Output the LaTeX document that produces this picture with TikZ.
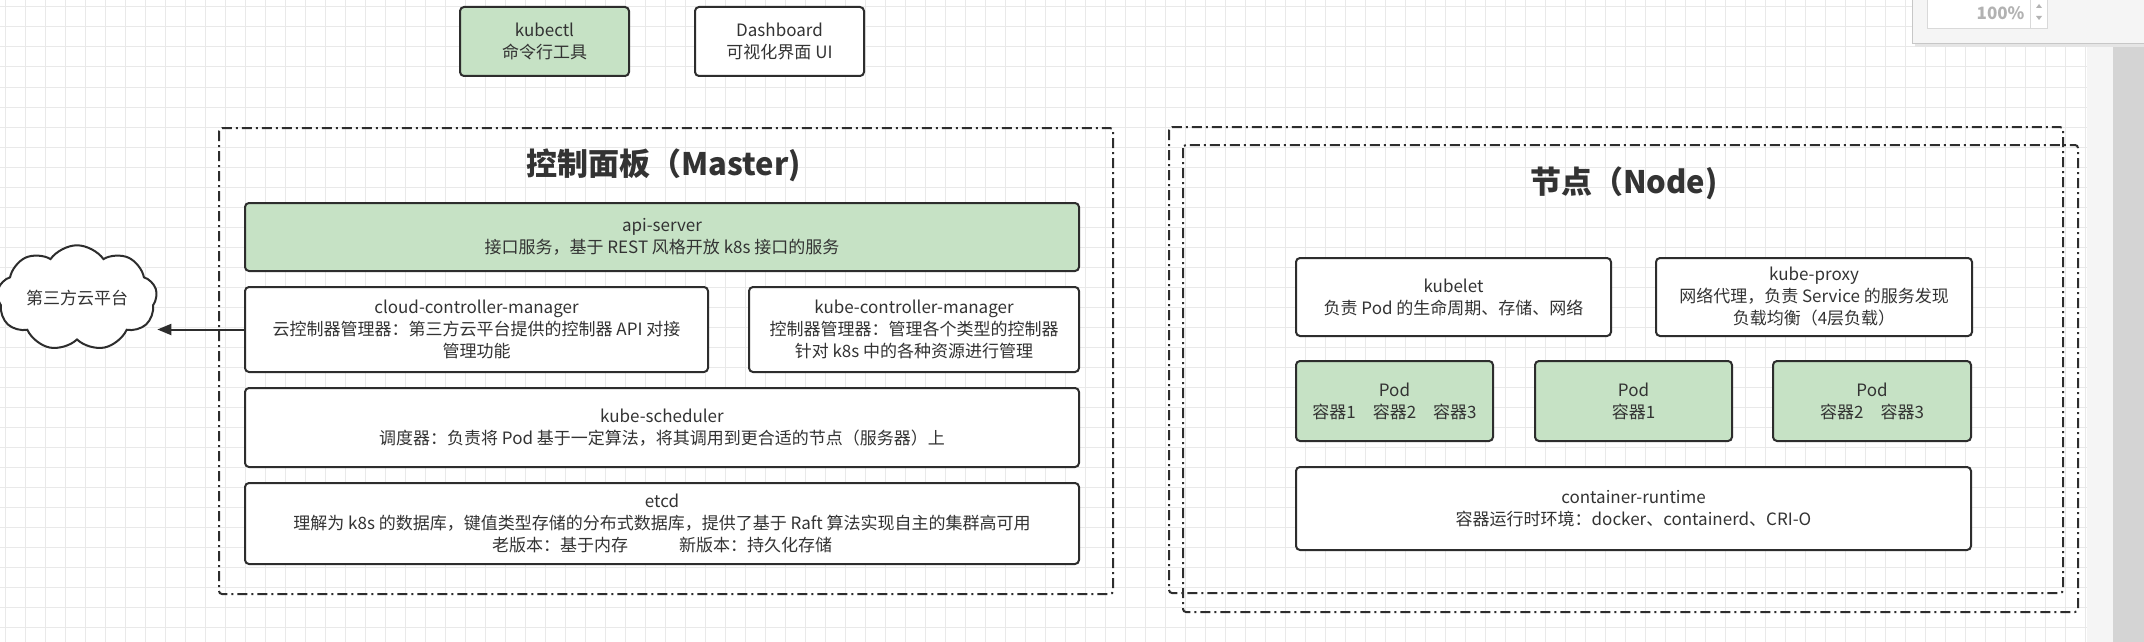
\documentclass[tikz,border=0pt]{standalone}
\usepackage{fontspec}
\setmainfont{Noto Sans CJK SC}
\usetikzlibrary{shapes.symbols,arrows.meta}
\definecolor{boxline}{RGB}{45,45,45}
\definecolor{txt}{RGB}{51,51,51}
\definecolor{podgreen}{RGB}{198,226,197}
\definecolor{gridgray}{RGB}{233,233,233}
\definecolor{panelgray}{RGB}{245,245,245}
\begin{document}
\begin{tikzpicture}[x=1pt,y=-1pt,>={Triangle[length=14pt,width=11pt]},
	every node/.style={text=txt,font=\fontsize{17}{22}\selectfont},
	box/.style={draw=boxline,line width=2pt,rounded corners=4pt,fill=white,align=center,inner sep=0pt},
	greenbox/.style={box,fill=podgreen},
	frame/.style={draw=boxline,line width=2pt,dash pattern=on 10pt off 4pt on 2pt off 4pt,rounded corners=3pt},
	title/.style={font=\bfseries\fontsize{31}{36}\selectfont},
	gridline/.style={gridgray,line width=1pt}]
	\useasboundingbox[fill=white] (0,0) rectangle (2144,642);
	\foreach \gx in {5,25,...,2085} \draw[gridline] (\gx,0) -- (\gx,642);
	\foreach \gy in {7,27,...,642} \draw[gridline] (0,\gy) -- (2087,\gy);
	\fill[panelgray] (2087,0) rectangle (2113,642);
	\fill[black!17] (2113,0) rectangle (2144,642);
	\fill[black!10] (1915,0) rectangle (2144,47);
	\draw[black!22,fill=panelgray] (1912,-2) rectangle (2146,43);
	\draw[black!15,fill=white] (1927,-2) rectangle (2047,28);
	\draw[black!15] (2030,-2) -- (2030,28);
	\fill[black!30] (2036,8) -- (2042,8) -- (2039,4) -- cycle;
	\fill[black!30] (2036,16) -- (2042,16) -- (2039,20) -- cycle;
	\node[anchor=east,text=black!30,font=\bfseries\fontsize{17}{20}\selectfont] (zoom) at (2028,13) {100\%};

	\node[greenbox,minimum width=169pt,minimum height=69pt] (kubectl) at (544.5,41.5) {kubectl\\命令行工具};
	\node[box,minimum width=169pt,minimum height=69pt] (dashboard) at (779.5,41.5) {Dashboard\\可视化界面 UI};

	\draw[frame] (219,128) rectangle (1113,594);
	\node[title] (mastertitle) at (664,165) {控制面板（Master)};
	\node[greenbox,minimum width=834pt,minimum height=68pt] (api) at (662,237) {api-server\\接口服务，基于 REST 风格开放 k8s 接口的服务};
	\node[box,minimum width=463pt,minimum height=85pt] (ccm) at (476.5,329.5) {cloud-controller-manager\\云控制器管理器：第三方云平台提供的控制器 API 对接\\管理功能};
	\node[box,minimum width=330pt,minimum height=85pt] (kcm) at (914,329.5) {kube-controller-manager\\控制器管理器：管理各个类型的控制器\\针对 k8s 中的各种资源进行管理};
	\node[box,minimum width=834pt,minimum height=79pt] (scheduler) at (662,427.5) {kube-scheduler\\调度器：负责将 Pod 基于一定算法，将其调用到更合适的节点（服务器）上};
	\node[box,minimum width=834pt,minimum height=81pt] (etcd) at (662,523.5) {etcd\\理解为 k8s 的数据库，键值类型存储的分布式数据库，提供了基于 Raft 算法实现自主的集群高可用\\老版本：基于内存\hspace{3em}新版本：持久化存储};

	\node[cloud,draw=boxline,line width=2pt,fill=white,cloud puffs=9,cloud puff arc=110,aspect=1.7,minimum width=160pt,minimum height=86pt,inner sep=0pt] (cloud) at (77,298) {第三方云平台};
	\draw[->,boxline,line width=2pt] (ccm.west) -- (ccm.west -| cloud.east);

	\draw[frame] (1169,127) rectangle (2063,593);
	\draw[frame] (1183,145) rectangle (2078,612);
	\node[title] (nodetitle) at (1624,183) {节点（Node)};
	\node[box,minimum width=315pt,minimum height=78pt] (kubelet) at (1453.5,297) {kubelet\\负责 Pod 的生命周期、存储、网络};
	\node[box,minimum width=316pt,minimum height=78pt] (proxy) at (1814,297) {kube-proxy\\网络代理，负责 Service 的服务发现\\负载均衡（4层负载）};
	\node[greenbox,minimum width=197pt,minimum height=80pt] (podone) at (1394.5,401) {Pod\\容器1\quad 容器2\quad 容器3};
	\node[greenbox,minimum width=197pt,minimum height=80pt] (podtwo) at (1633.5,401) {Pod\\容器1};
	\node[greenbox,minimum width=198pt,minimum height=80pt] (podthree) at (1872,401) {Pod\\容器2\quad 容器3};
	\node[box,minimum width=675pt,minimum height=83pt] (runtime) at (1633.5,508.5) {container-runtime\\容器运行时环境：docker、containerd、CRI-O};
\end{tikzpicture}
\end{document}
